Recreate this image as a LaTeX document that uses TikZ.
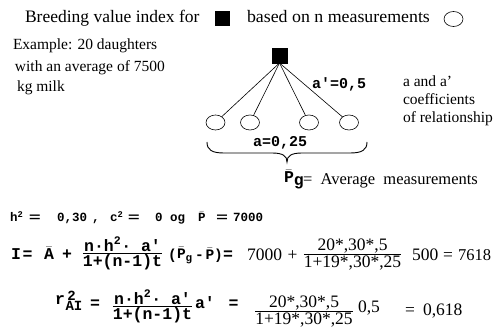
\documentclass[tikz,border=0pt]{standalone}
\usepackage{amsmath}
\usepackage{fontspec}
\setmainfont{Liberation Serif}
\setmonofont{Liberation Mono}
\usetikzlibrary{shapes.geometric}
\newcommand\myfrac[2]{$\genfrac{}{}{0.9pt}{1}{\hbox{#1}}{\hbox{#2}}$}
\newcommand\mysub[1]{\hbox{\fontsize{11}{11}\selectfont #1}}
\newcommand\weq{\scalebox{1.6}[1]{=}}
\begin{document}
\begin{tikzpicture}[x=1pt,y=-1pt,
  every node/.style={inner sep=0pt,outer sep=0pt},
  ser/.style={font=\fontsize{15.5}{18}\selectfont},
  ttl/.style={font=\fontsize{17.5}{20}\selectfont},
  mono/.style={font=\fontsize{15}{18}\selectfont\ttfamily\bfseries},
  eqm/.style={font=\fontsize{16.5}{20}\selectfont\ttfamily\bfseries},
  eqp/.style={font=\fontsize{14.5}{18}\selectfont\ttfamily\bfseries},
  eqms/.style={font=\fontsize{14}{16}\selectfont\ttfamily\bfseries},
  eqs/.style={font=\fontsize{17.5}{20}\selectfont},
  small/.style={font=\fontsize{12.5}{15}\selectfont\ttfamily\bfseries},
  blk/.style={draw=black,fill=black,minimum size=14pt},
  circ/.style={draw=black,ellipse,line width=0.6pt,minimum width=19pt,minimum height=15pt},
  ln/.style={draw=black,line width=0.6pt}]
\fill[white] (0,0) rectangle (493,328);
\useasboundingbox (0,0) rectangle (493,328);
% title
\node[ttl,anchor=base west] (title1) at (25,23) {Breeding value index for};
\node[blk] (tsq) at (222.5,18.5) {};
\node[ttl,anchor=base west] (title2) at (247,23) {\scalebox{1.02}[1]{based on n measurements}};
\node[circ] (tcirc) at (453.5,19) {};
% example
\node[ser,anchor=base west] (ex1) at (13,50) {Example: 20 daughters};
\node[ser,anchor=base west] (ex2) at (15,72) {with an average of 7500};
\node[ser,anchor=base west] (ex3) at (17,92) {kg milk};
% tree
\node[blk,minimum size=15pt] (sire) at (279.5,55.5) {};
\node[circ] (d1) at (215.5,122.5) {};
\node[circ] (d2) at (250,122.5) {};
\node[circ] (d3) at (309,122.5) {};
\node[circ] (d4) at (349,122.5) {};
\foreach \d in {d1,d2,d3,d4} \draw[ln] (sire.south) -- (\d);
\node[mono,anchor=west] (ap) at (312,84.5) {a'=0,5};
\node[mono,anchor=west] (aa) at (253,142.5) {a=0,25};
\node[ser,anchor=base west] (c1) at (403,87) {a and a'};
\node[ser,anchor=base west] (c2) at (403,105) {coefficients};
\node[ser,anchor=base west] (c3) at (403,123) {of relationship};
% brace
\draw[line width=0.9pt] (207,142) .. controls (207,150) and (212,153) .. (224,153) -- (272,153)
  .. controls (283,153) and (287,156) .. (287,162) .. controls (287,156) and (291,153) .. (302,153)
  -- (350,153) .. controls (362,153) and (367,150) .. (367,142);
\node[eqm,anchor=base west] (pg) at (284,183) {$\bar{\hbox{P}}_{\hbox{g}}$};
\node[ser,anchor=base west,font=\fontsize{16.5}{18}\selectfont] (avg) at (303,185) {=\ \ Average\ \ measurements};
% parameters
\node[small,anchor=base west] (h) at (10,222) {h\textsuperscript{2}};
\node[small,anchor=base] (e1) at (35,222) {\weq};
\node[small,anchor=base west] (v1) at (57,222) {0,30};
\node[small,anchor=base west] (cm) at (92,222) {,};
\node[small,anchor=base west] (c) at (110,222) {c\textsuperscript{2}};
\node[small,anchor=base] (e2) at (134,222) {\weq};
\node[small,anchor=base west] (v2) at (155,222) {0};
\node[small,anchor=base west] (og) at (170,222) {og};
\node[small,anchor=base west] (pb) at (198,222) {$\bar{\hbox{P}}$};
\node[small,anchor=base] (e3) at (222,222) {\weq};
\node[small,anchor=base west] (v3) at (233,222) {7000};
% equation I
\node[eqm,anchor=base] (I) at (16,260) {I};
\node[eqm,anchor=base] (ie) at (27.5,260) {=};
\node[eqm,anchor=base] (A) at (49,260) {$\bar{\hbox{A}}$};
\node[eqm,anchor=base] (ip) at (67,260) {+};
\node[eqm,anchor=base] (f1) at (122.5,258) {\myfrac{n·h\textsuperscript{2}· a'}{1+(n-1)t}};
\node[eqp,anchor=base] (lp) at (172.5,260) {(};
\node[eqp,anchor=base west] (pg2) at (177,259) {$\bar{\hbox{P}}_{\mysub{g}}$};
\node[eqp,anchor=base] (mi) at (199.5,260) {-};
\node[eqp,anchor=base] (pb2) at (210,260) {$\bar{\hbox{P}}$};
\node[eqp,anchor=base] (rp) at (218.5,260) {)};
\node[eqm,anchor=base] (ie2) at (228,260) {=};
\node[eqs,anchor=base west] (n7000) at (247,261) {7000};
\node[eqs,anchor=base] (ip2) at (292.5,261) {+};
\node[eqs,anchor=base] (f2) at (352.5,259) {\myfrac{20*,30*,5}{1+19*,30*,25}};
\node[eqs,anchor=base west] (n500) at (412,261) {500};
\node[eqs,anchor=base] (ie3) at (448,261) {=};
\node[eqs,anchor=base west,font=\fontsize{16.5}{20}\selectfont] (res1) at (458,261) {7618};
% equation r
\node[eqm,anchor=base west] (r) at (55,305) {r};
\node[eqms] (r2) at (71.5,295.5) {2};
\node[eqms] (rAI) at (74,306) {AI};
\node[eqm,anchor=base] (re) at (95,309) {=};
\node[eqm,anchor=base] (f3) at (152.5,311) {\myfrac{n·h\textsuperscript{2}· a'}{1+(n-1)t}};
\node[eqm,anchor=base west] (ra) at (195,309) {a'};
\node[eqm,anchor=base] (re2) at (233.5,309) {=};
\node[eqs,anchor=base] (f4) at (304,316) {\myfrac{20*,30*,5}{1+19*,30*,25}};
\node[eqs,anchor=base west] (h05) at (358,313) {0,5};
\node[eqs,anchor=base] (re3) at (410,316) {=};
\node[eqs,anchor=base west] (res2) at (423,316) {0,618};
\end{tikzpicture}
\end{document}
